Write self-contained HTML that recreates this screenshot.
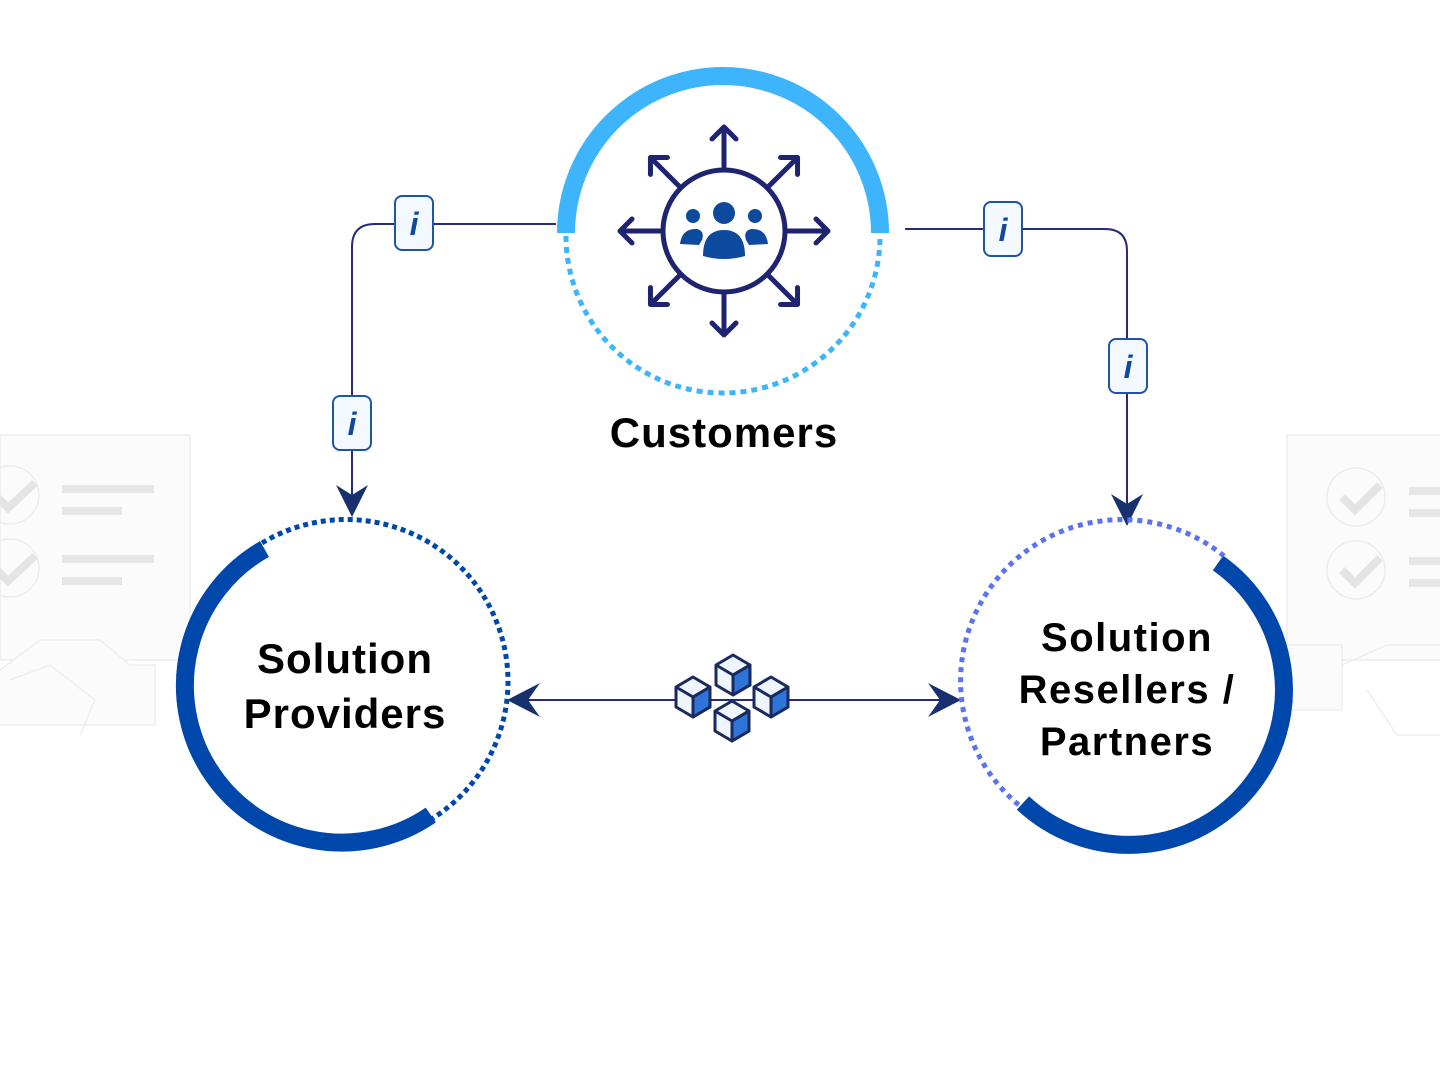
<!DOCTYPE html>
<html><head><meta charset="utf-8"><style>
html,body{margin:0;padding:0;background:#fff;}
svg{display:block;}
text{font-family:"Liberation Sans",sans-serif;}
</style></head><body>
<svg width="1440" height="1080" viewBox="0 0 1440 1080" xmlns="http://www.w3.org/2000/svg">
<defs>
<g id="cube">
  <path d="M0,-20 L17,-10 L17,10 L0,20 L-17,10 L-17,-10 Z" fill="#eef5fd" stroke="#1b2a5e" stroke-width="3" stroke-linejoin="round"/>
  <path d="M0,0 L17,-10 L17,10 L0,20 Z" fill="#2f74d8" stroke="#1b2a5e" stroke-width="3" stroke-linejoin="round"/>
  <path d="M-17,-10 L0,0 L17,-10" fill="none" stroke="#1b2a5e" stroke-width="3" stroke-linejoin="round"/>
</g>
<g id="badge">
  <rect x="-19" y="-27" width="38" height="54" rx="7" fill="#f4f9ff" stroke="#1f54a8" stroke-width="2"/>
  <text x="0" y="12" text-anchor="middle" font-family="Liberation Serif,serif" font-style="italic" font-weight="bold" font-size="32" fill="#0d4a9e">i</text>
</g>
<g id="bgicon" fill="none">
  <rect x="0" y="0" width="190" height="225" fill="#fbfbfb" stroke="#ededed" stroke-width="1.5"/>
  <circle cx="10" cy="60" r="29" stroke="#ececec" stroke-width="1.5"/>
  <circle cx="10" cy="133" r="29" stroke="#ececec" stroke-width="1.5"/>
  <path d="M-5,60 L8,73 L35,48" stroke="#e4e4e4" stroke-width="8"/>
  <path d="M-5,133 L8,146 L35,121" stroke="#e4e4e4" stroke-width="8"/>
  <rect x="62" y="50" width="92" height="8" fill="#e6e6e6"/>
  <rect x="62" y="72" width="60" height="8" fill="#e6e6e6"/>
  <rect x="62" y="120" width="92" height="8" fill="#e6e6e6"/>
  <rect x="62" y="142" width="60" height="8" fill="#e6e6e6"/>
  <path d="M0,235 L40,205 L100,205 L130,230 L155,230 L155,290 L0,290" fill="#fbfbfb" stroke="#eeeeee" stroke-width="1.5"/>
  <path d="M10,245 L50,230 L95,265 L80,300" stroke="#eeeeee" stroke-width="1.5"/>
</g>
</defs>

<use href="#bgicon" x="0" y="435"/>
<g transform="translate(1287,435)">
  <rect x="0" y="0" width="160" height="225" fill="#fbfbfb" stroke="#ededed" stroke-width="1.5"/>
  <circle cx="69" cy="62" r="29" fill="none" stroke="#ececec" stroke-width="1.5"/>
  <circle cx="69" cy="135" r="29" fill="none" stroke="#ececec" stroke-width="1.5"/>
  <path d="M55,62 L68,75 L93,50" fill="none" stroke="#e4e4e4" stroke-width="8"/>
  <path d="M55,135 L68,148 L93,123" fill="none" stroke="#e4e4e4" stroke-width="8"/>
  <rect x="122" y="52" width="40" height="8" fill="#e6e6e6"/>
  <rect x="122" y="74" width="40" height="8" fill="#e6e6e6"/>
  <rect x="122" y="122" width="40" height="8" fill="#e6e6e6"/>
  <rect x="122" y="144" width="40" height="8" fill="#e6e6e6"/>
  <rect x="-10" y="210" width="65" height="65" fill="#fbfbfb" stroke="#eeeeee" stroke-width="1.5"/>
  <path d="M55,230 L100,210 L160,210 L160,300 L110,300 L80,255" fill="none" stroke="#eeeeee" stroke-width="1.5"/>
</g>

<g fill="none" stroke="#262c78" stroke-width="2">
  <path d="M556,224 L375,224 Q352,224 352,247 L352,495"/>
  <path d="M905,229 L1105,229 Q1127,229 1127,251 L1127,505"/>
  <path d="M525,700 L950,700"/>
</g>
<path d="M336,485 L352,495 L368,485 L352,517 Z" fill="#17306e"/>
<path d="M1111,494 L1127,504 L1143,494 L1127,526 Z" fill="#17306e"/>
<path d="M540,683 L528,700 L540,717 L507,700 Z" fill="#17306e"/>
<path d="M928,683 L940,700 L928,717 L961,700 Z" fill="#17306e"/>

<use href="#badge" x="414" y="223"/>
<use href="#badge" x="352" y="423"/>
<use href="#badge" x="1003" y="229"/>
<use href="#badge" x="1128" y="366"/>

<path d="M566,233 A157,157 0 0 1 880,233" fill="none" stroke="#3db4fb" stroke-width="18"/>
<path d="M566,236 A157,157 0 0 0 880,236" fill="none" stroke="#3db4fb" stroke-width="5" stroke-dasharray="6,5"/>
<g stroke="#1f2470" stroke-width="5" fill="none" stroke-linecap="round" stroke-linejoin="round">
  <circle cx="724" cy="231" r="61" fill="#fff"/>
  <g id="arr">
    <path d="M724,170 L724,127 M712,139 L724,127 L736,139"/>
  </g>
  <use href="#arr" transform="rotate(45 724 231)"/>
  <use href="#arr" transform="rotate(90 724 231)"/>
  <use href="#arr" transform="rotate(135 724 231)"/>
  <use href="#arr" transform="rotate(180 724 231)"/>
  <use href="#arr" transform="rotate(225 724 231)"/>
  <use href="#arr" transform="rotate(270 724 231)"/>
  <use href="#arr" transform="rotate(315 724 231)"/>
</g>
<g fill="#0d4a9e">
  <circle cx="724" cy="213" r="11"/>
  <circle cx="693" cy="216" r="7"/>
  <circle cx="755" cy="216" r="7"/>
  <path d="M703,256 Q703,230 724,230 Q745,230 745,256 Q724,262 703,256 Z"/>
  <path d="M680,244 Q682,228 697,229 Q705,231 702,240 L699,245 Z"/>
  <path d="M768,244 Q766,228 751,229 Q743,231 746,240 L749,245 Z"/>
</g>
<text x="724" y="447" text-anchor="middle" font-size="42" font-weight="bold" fill="#000" letter-spacing="1">Customers</text>

<path d="M264.5,549 A157,157 0 1 0 430.8,815" fill="none" stroke="#0047ab" stroke-width="18"/>
<path d="M262,543 A160,160 0 0 1 430,820" fill="none" stroke="#0047ab" stroke-width="5" stroke-dasharray="5,4"/>
<text x="345" y="673" text-anchor="middle" font-size="42" font-weight="bold" fill="#000" letter-spacing="1">Solution</text>
<text x="345" y="728" text-anchor="middle" font-size="42" font-weight="bold" fill="#000" letter-spacing="1">Providers</text>

<path d="M1218,563 A155,155 0 1 1 1023,803" fill="none" stroke="#0047ab" stroke-width="18"/>
<path d="M1224,556 A158,158 0 1 0 1020,806" fill="none" stroke="#5a72f4" stroke-width="5" stroke-dasharray="5,5"/>
<text x="1127" y="651" text-anchor="middle" font-size="40" font-weight="bold" fill="#000" letter-spacing="1.5">Solution</text>
<text x="1127" y="703" text-anchor="middle" font-size="40" font-weight="bold" fill="#000" letter-spacing="1.5">Resellers /</text>
<text x="1127" y="755" text-anchor="middle" font-size="40" font-weight="bold" fill="#000" letter-spacing="1.5">Partners</text>

<use href="#cube" x="733" y="675"/>
<use href="#cube" x="693" y="697"/>
<use href="#cube" x="771" y="697"/>
<use href="#cube" x="732" y="721"/>
</svg>
</body></html>
